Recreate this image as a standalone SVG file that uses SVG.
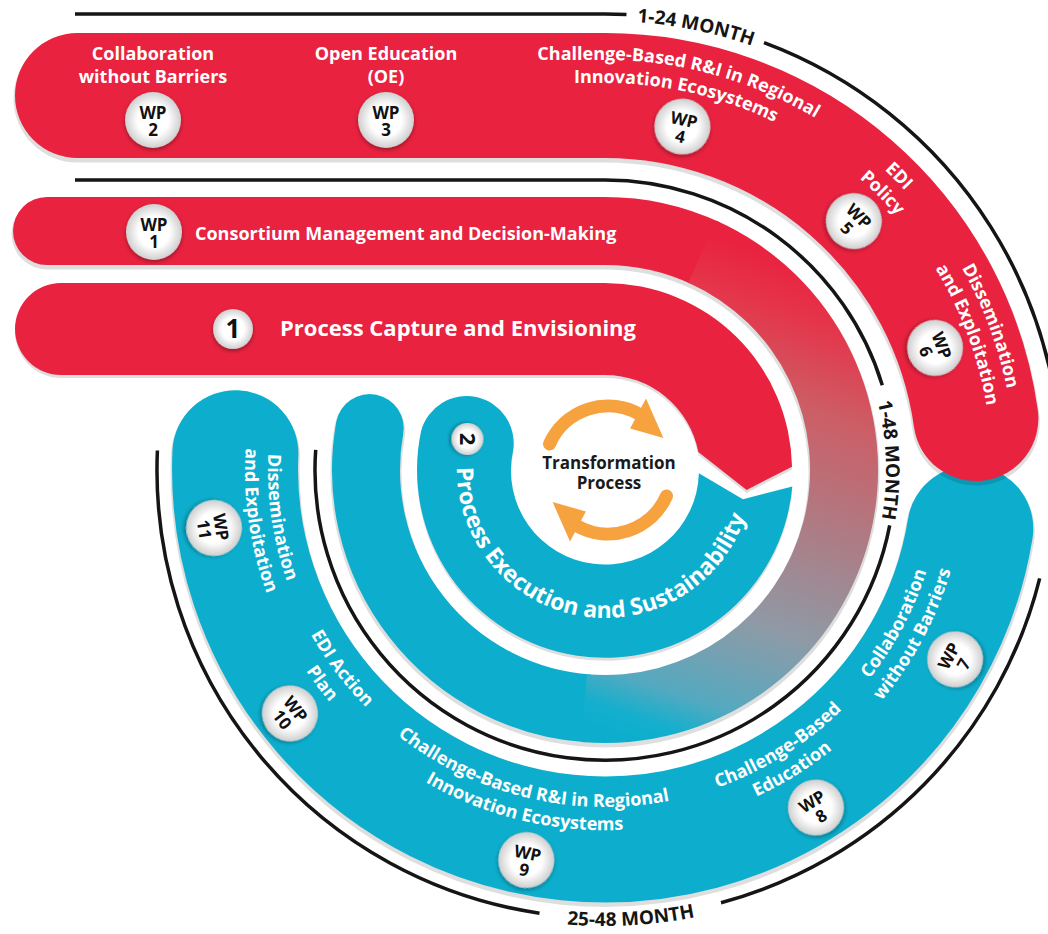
<svg xmlns="http://www.w3.org/2000/svg" width="1048" height="934" viewBox="0 0 1048 934">
<defs>
<style>
.t{font-family:"Open Sans","Liberation Sans",sans-serif;font-weight:700}
.w{fill:#fff;font-size:18px}
.wp{fill:#111;font-size:17px;text-anchor:middle}
.m{fill:#151515;font-size:19px}
.tl{fill:none;stroke:#151515;stroke-width:3.5}
.bd{fill:url(#bg);filter:url(#bs)}
.red{stroke:#E9223F}
.teal{stroke:#0DAECD}
.shd{fill:none;stroke:#000;stroke-opacity:0.13}
.arw{fill:none;stroke:#F6A23E;stroke-width:13;stroke-linecap:round}
</style>
<filter id="bs"><feDropShadow dx="0" dy="2" stdDeviation="2" flood-color="#000" flood-opacity="0.35"/></filter>
<radialGradient id="bg"><stop offset="0.55" stop-color="#ffffff"/><stop offset="1" stop-color="#cfcfcf"/></radialGradient>
<linearGradient id="gr" gradientUnits="userSpaceOnUse" x1="730" y1="240" x2="570" y2="715">
<stop offset="0" stop-color="#E9223F"/><stop offset="0.1" stop-color="#E5354A"/><stop offset="0.27" stop-color="#CC5E66"/><stop offset="0.53" stop-color="#A8818A"/><stop offset="0.71" stop-color="#8E9AA6"/><stop offset="0.89" stop-color="#55A9C0"/><stop offset="0.96" stop-color="#15AFCD"/><stop offset="1" stop-color="#0DAECD"/>
</linearGradient>
<path id="tp1" d="M 0,60 H 605 A 410 410 0 0 1 1008.8,541.2"/>
<path id="tp2" d="M 0,83 H 605 A 387 387 0 0 1 986.1,537.2"/>
<path id="bp1" d="M 273.1,411.5 A 337 337 0 1 0 936.9,411.5"/>
<path id="bp2" d="M 250.5,407.5 A 360 360 0 1 0 959.5,407.5"/>
<path id="pe" d="M 457.0,467.4 A 148 148 0 1 0 718.4,374.9"/>
<path id="mt1" d="M 451.4,48.1 A 449 449 0 0 1 893.6,126"/>
<path id="mt2" d="M 820.3,289.4 A 281 281 0 0 1 820.3,650.6"/>
<path id="mt3" d="M 377,864.9 A 456 456 0 0 0 898.1,819.3"/>
</defs>

<rect width="1048" height="934" fill="#ffffff"/>

<g id="bands">
  <g id="band-25-48">
    <path class="shd" d="M 235.4,453.2 A 370 370 0 0 0 970.3,528.5" stroke-width="129" stroke-linecap="round" transform="translate(0,3)"/>
    <path class="teal" d="M 235.4,453.2 A 370 370 0 0 0 970.3,528.5" fill="none" stroke-width="126" stroke-linecap="round"/>
  </g>
  <g id="band-1-24">
    <path class="shd" d="M 77.5,95.5 H 605 A 374.5 374.5 0 0 1 975.9,418.5" stroke-width="128" stroke-linecap="round" transform="translate(0,3)"/>
    <path class="red" d="M 77.5,95.5 H 605 A 374.5 374.5 0 0 1 975.9,418.5" fill="none" stroke-width="125" stroke-linecap="round"/>
  </g>
  <g id="band-1-48">
    <path class="shd" d="M 47,231 H 605 A 239 239 0 1 1 369.7,428.1" stroke-width="71" stroke-linecap="round" transform="translate(0,3)"/>
    <circle cx="47" cy="231" r="34" fill="#E9223F"/>
    <path class="red" d="M 47,231 H 605 A 239 239 0 0 1 706,253.4" fill="none" stroke-width="68"/>
    <circle cx="369.7" cy="428.1" r="34" fill="#0DAECD"/>
    <path class="teal" d="M 588.3,708.4 A 239 239 0 0 1 369.7,428.1" fill="none" stroke-width="68"/>
    <path fill="url(#gr)" d="M 716,220.6 A 273 273 0 0 1 581.2,742 L 587.1,674.2 A 205 205 0 0 0 688.4,282.7 Z"/>
  </g>
  <g id="phase1">
    <path fill="#000" fill-opacity="0.13" transform="translate(0,3)" d="M 61,283 H 605 A 187 187 0 0 1 792,466.7 L 746.6,489.9 L 698.3,451.9 A 95 95 0 0 0 605,375 H 61 A 46 46 0 0 1 61,283 Z"/>
    <path fill="#E9223F" d="M 61,283 H 605 A 187 187 0 0 1 792,466.7 L 746.6,489.9 L 698.3,451.9 A 95 95 0 0 0 605,375 H 61 A 46 46 0 0 1 61,283 Z"/>
  </g>
  <g id="phase2">
    <path fill="#000" fill-opacity="0.13" transform="translate(0,3)" d="M 792.3,486.4 A 188 188 0 1 1 421.1,430.9 A 47.1 47.1 0 0 1 513.1,450.5 A 94 94 0 1 0 698.9,473.3 L 742.9,499.3 Z"/>
    <path fill="#0DAECD" d="M 792.3,486.4 A 188 188 0 1 1 421.1,430.9 A 47.1 47.1 0 0 1 513.1,450.5 A 94 94 0 1 0 698.9,473.3 L 742.9,499.3 Z"/>
  </g>
</g>

<g id="timelines">
  <path class="tl" d="M 75,14 H 605 A 456 456 0 0 1 626.5,14.5"/>
  <path class="tl" d="M 764,42.6 A 456 456 0 0 1 1059.3,509.7"/>
  <path class="tl" d="M 75,180 H 605 A 290 290 0 0 1 882.3,385.2"/>
  <path class="tl" d="M 889.7,525.3 A 290 290 0 0 1 315.7,449.8"/>
  <path class="tl" d="M 157.4,450.5 A 448 448 0 0 0 539.5,913.2"/>
  <path class="tl" d="M 721,902.7 A 448 448 0 0 0 1039.7,578.4"/>
  <text class="t m" text-anchor="middle"><textPath href="#mt1" startOffset="247.6">1-24 MONTH</textPath></text>
  <text class="t m" text-anchor="middle"><textPath href="#mt2" startOffset="186.4">1-48 MONTH</textPath></text>
  <text class="t m" text-anchor="middle"><textPath href="#mt3" startOffset="265">25-48 MONTH</textPath></text>
</g>

<g id="phase1-label">
  <circle cx="233" cy="329" r="20" class="bd"/>
  <text class="t" x="233" y="338" font-size="26" fill="#111" text-anchor="middle">1</text>
  <text class="t" x="280" y="336" font-size="22" fill="#fff">Process Capture and Envisioning</text>
</g>

<g id="phase2-label">
  <g transform="translate(467.5,439) rotate(90)">
    <circle r="16" class="bd"/>
    <text class="t" y="8" font-size="22" fill="#111" text-anchor="middle">2</text>
  </g>
  <text class="t" font-size="23" fill="#fff" text-anchor="middle"><textPath href="#pe" startOffset="210">Process Execution and Sustainability</textPath></text>
</g>

<g id="transformation">
  <g>
    <path class="arw" d="M 549.5,444 A 64 64 0 0 1 640,414.6"/>
    <polygon fill="#F6A23E" points="646,398.5 663.4,438 630.1,428.5"/>
  </g>
  <g transform="rotate(180 608 470)">
    <path class="arw" d="M 549.5,444 A 64 64 0 0 1 640,414.6"/>
    <polygon fill="#F6A23E" points="646,398.5 663.4,438 630.1,428.5"/>
  </g>
  <text class="t" font-size="17" fill="#1a1a1a" text-anchor="middle"><tspan x="609" y="469">Transformation</tspan><tspan x="609" y="489">Process</tspan></text>
</g>

<g id="wp1">
  <text class="t w" x="195" y="240">Consortium Management and Decision-Making</text>
  <g transform="translate(154,232)"><circle r="28" class="bd"/><text class="t wp" y="-1">WP</text><text class="t wp" y="16">1</text></g>
</g>
<g id="wp2">
  <text class="t w" text-anchor="middle"><tspan x="153" y="60">Collaboration</tspan><tspan x="153" y="83">without Barriers</tspan></text>
  <g transform="translate(153,120)"><circle r="28" class="bd"/><text class="t wp" y="-1">WP</text><text class="t wp" y="16">2</text></g>
</g>
<g id="wp3">
  <text class="t w" text-anchor="middle"><tspan x="386" y="60">Open Education</tspan><tspan x="386" y="83">(OE)</tspan></text>
  <g transform="translate(386,120)"><circle r="28" class="bd"/><text class="t wp" y="-1">WP</text><text class="t wp" y="16">3</text></g>
</g>
<g id="wp4">
  <text class="t w" text-anchor="middle"><textPath href="#tp1" startOffset="681.6">Challenge-Based R&amp;I in Regional</textPath></text>
  <text class="t w" text-anchor="middle"><textPath href="#tp2" startOffset="677.3">Innovation Ecosystems</textPath></text>
  <g transform="translate(682.4,126.6) rotate(12.7)"><circle r="28" class="bd"/><text class="t wp" y="-1">WP</text><text class="t wp" y="16">4</text></g>
</g>
<g id="wp5">
  <text class="t w" text-anchor="middle"><textPath href="#tp1" startOffset="927">EDI</textPath></text>
  <text class="t w" text-anchor="middle"><textPath href="#tp2" startOffset="909">Policy</textPath></text>
  <g transform="translate(853.9,221.1) rotate(45)"><circle r="28" class="bd"/><text class="t wp" y="-1">WP</text><text class="t wp" y="16">5</text></g>
</g>
<g id="wp6">
  <text class="t w" text-anchor="middle"><textPath href="#tp1" startOffset="1102.3">Dissemination</textPath></text>
  <text class="t w" text-anchor="middle"><textPath href="#tp2" startOffset="1074.4">and Exploitation</textPath></text>
  <g transform="translate(935.1,347.9) rotate(69.7)"><circle r="28" class="bd"/><text class="t wp" y="-1">WP</text><text class="t wp" y="16">6</text></g>
</g>
<g id="wp7">
  <text class="t w" text-anchor="middle"><textPath href="#bp1" startOffset="952.8">Collaboration</textPath></text>
  <text class="t w" text-anchor="middle"><textPath href="#bp2" startOffset="1017.9">without Barriers</textPath></text>
  <g transform="translate(955.1,659.3) rotate(-61.6)"><circle r="28" class="bd"/><text class="t wp" y="-1">WP</text><text class="t wp" y="16">7</text></g>
</g>
<g id="wp8">
  <text class="t w" text-anchor="middle"><textPath href="#bp1" startOffset="776.4">Challenge-Based</textPath></text>
  <text class="t w" text-anchor="middle"><textPath href="#bp2" startOffset="829.4">Education</textPath></text>
  <g transform="translate(815.9,807.5) rotate(-32)"><circle r="28" class="bd"/><text class="t wp" y="-1">WP</text><text class="t wp" y="16">8</text></g>
</g>
<g id="wp9">
  <text class="t w" text-anchor="middle"><textPath href="#bp1" startOffset="508.8">Challenge-Based R&amp;I in Regional</textPath></text>
  <text class="t w" text-anchor="middle"><textPath href="#bp2" startOffset="543.5">Innovation Ecosystems</textPath></text>
  <g transform="translate(526.3,860.1) rotate(11.4)"><circle r="28" class="bd"/><text class="t wp" y="-1">WP</text><text class="t wp" y="16">9</text></g>
</g>
<g id="wp10">
  <text class="t w" text-anchor="middle"><textPath href="#bp1" startOffset="276.4">EDI Action</textPath></text>
  <text class="t w" text-anchor="middle"><textPath href="#bp2" startOffset="295.3">Plan</textPath></text>
  <g transform="translate(290,713.4) rotate(52.3)"><circle r="28" class="bd"/><text class="t wp" y="-1">WP</text><text class="t wp" y="16">10</text></g>
</g>
<g id="wp11">
  <text class="t w" text-anchor="middle"><textPath href="#bp1" startOffset="107.6">Dissemination</textPath></text>
  <text class="t w" text-anchor="middle"><textPath href="#bp2" startOffset="115">and Exploitation</textPath></text>
  <g transform="translate(214,528) rotate(81.5)"><circle r="28" class="bd"/><text class="t wp" y="-1">WP</text><text class="t wp" y="16">11</text></g>
</g>
</svg>
